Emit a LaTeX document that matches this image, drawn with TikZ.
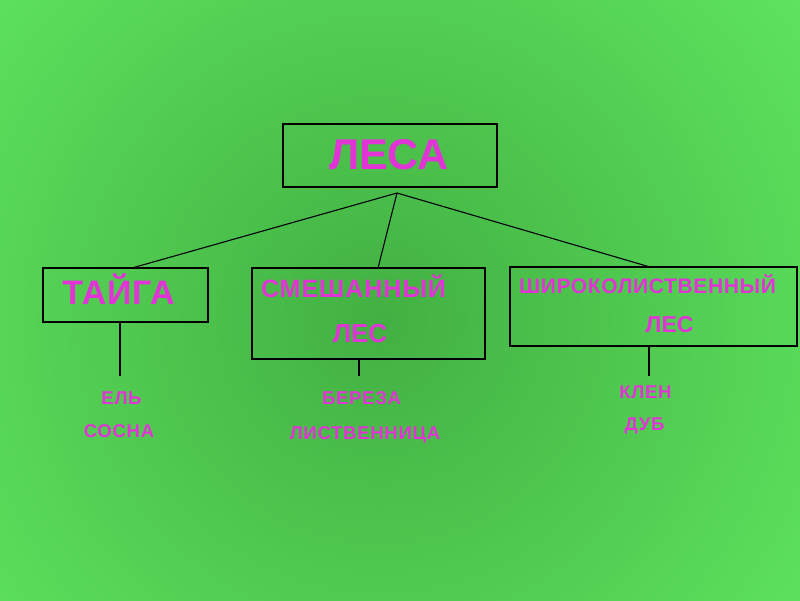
\documentclass[tikz,border=0pt]{standalone}
\usepackage{fontspec}
\setmainfont{Liberation Sans}
\definecolor{bgin}{RGB}{66,176,66}
\definecolor{bgout}{RGB}{106,250,106}
\definecolor{txt}{RGB}{226,52,214}
\tikzset{
  box/.style={draw=black, line width=2.6pt, rectangle, inner sep=0pt, outer sep=0pt},
  conn/.style={draw=black, line width=1.1pt},
  lbl/.style={text=txt, inner sep=0pt, anchor=base, font=\bfseries},
}
\newcommand{\fs}[1]{\fontsize{#1}{#1}\selectfont}
\newcommand{\smallfont}{\bfseries\fs{18.5}\addfontfeature{LetterSpace=4}}
\begin{document}
\begin{tikzpicture}[x=1pt,y=-1pt]
\useasboundingbox (0,0) rectangle (800,600);
\begin{scope}
\clip (0,0) rectangle (800,600);
\shade[inner color=bgin, outer color=bgout] (380,320) circle (760);
\end{scope}
% boxes
\node[box, minimum width=214pt, minimum height=63pt] (lesa) at (390,155.5) {};
\node[box, minimum width=165pt, minimum height=54pt] (taiga) at (125.5,295) {};
\node[box, minimum width=233pt, minimum height=91pt] (smesh) at (368.5,313.5) {};
\node[box, minimum width=287pt, minimum height=79pt] (shir) at (653.5,306.5) {};
% texts
\node[lbl, font=\bfseries\fs{43}] (tlesa) at (389,169) {ЛЕСА};
\node[lbl, font=\bfseries\fs{34}\addfontfeature{LetterSpace=2}] (ttaiga) at (118.5,304) {ТАЙГА};
\node[lbl, font=\bfseries\fs{25}\addfontfeature{LetterSpace=4}] (tsmesh1) at (353.5,297) {СМЕШАННЫЙ};
\node[lbl, font=\bfseries\fs{26}] (tsmesh2) at (360,342) {ЛЕС};
\node[lbl, font=\bfseries\fs{21}\addfontfeature{LetterSpace=3}] (tshir1) at (647.5,293) {ШИРОКОЛИСТВЕННЫЙ};
\node[lbl, font=\bfseries\fs{23}] (tshir2) at (669.5,332) {ЛЕС};
\node[lbl, font=\smallfont] (el) at (121.5,404) {ЕЛЬ};
\node[lbl, font=\smallfont] (sosna) at (119,437) {СОСНА};
\node[lbl, font=\smallfont] (bereza) at (361.5,404) {БЕРЕЗА};
\node[lbl, font=\smallfont] (listv) at (365,439) {ЛИСТВЕННИЦА};
\node[lbl, font=\smallfont] (klen) at (645.5,398) {КЛЕН};
\node[lbl, font=\smallfont] (dub) at (644.5,430) {ДУБ};
% connectors
\coordinate (apex) at (397,193);
\draw[conn] (apex) -- ([xshift=6.5pt]taiga.north);
\draw[conn] (apex) -- ([xshift=9.5pt]smesh.north);
\draw[conn] (apex) -- ([xshift=-3.5pt]shir.north);
\coordinate (e1) at (120,376);
\coordinate (e2) at (359,376);
\coordinate (e3) at (649,376);
\draw[conn] (taiga.south -| e1) -- (e1);
\draw[conn] (smesh.south -| e2) -- (e2);
\draw[conn] (shir.south -| e3) -- (e3);
\end{tikzpicture}
\end{document}
